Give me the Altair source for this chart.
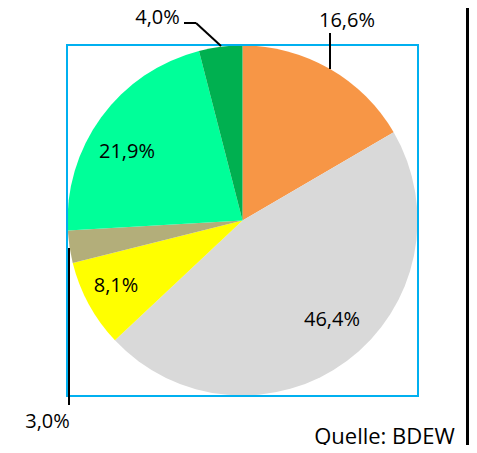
import altair as alt
import pandas as pd

categories = ["Kategorie 1", "Kategorie 2", "Kategorie 3", "Kategorie 4", "Kategorie 5", "Kategorie 6"]
values = [16.6, 46.4, 8.1, 3.0, 21.9, 4.0]
colors = ["#F79646", "#D9D9D9", "#FFFF00", "#B3AE7A", "#00FF99", "#00B050"]
source = "Quelle: BDEW"

df = pd.DataFrame({"cat": categories, "value": values, "order": list(range(len(values)))})

FONT = "Open Sans"
FS = 20
CX, CY, R = 234.5, 212.5, 175

base = alt.Chart(df).transform_calculate(
    label="replace(format(datum.value, '.1f'), '.', ',') + '%'"
)

arc = base.mark_arc(outerRadius=R).encode(
    theta=alt.Theta("value:Q", stack=True),
    color=alt.Color("cat:N", scale=alt.Scale(domain=categories, range=colors), legend=None),
    order=alt.Order("order:Q"),
    x=alt.value(CX),
    y=alt.value(CY),
)

def label(cat, x, y):
    return base.transform_filter(alt.datum.cat == cat).mark_text(
        font=FONT, fontSize=FS, color="black", baseline="alphabetic", align="center"
    ).encode(x=alt.value(x), y=alt.value(y), text="label:N")

def leader(cat, x1, y1, x2, y2):
    return alt.Chart(df).transform_filter(alt.datum.cat == cat).mark_rule(
        color="black", strokeWidth=2
    ).encode(x=alt.value(x1), y=alt.value(y1), x2=alt.value(x2), y2=alt.value(y2))

one = alt.Chart(df).transform_filter(alt.datum.cat == categories[0])

border = one.mark_rect(fillOpacity=0, stroke="#00B0F0", strokeWidth=2).encode(
    x=alt.value(59), x2=alt.value(410), y=alt.value(37), y2=alt.value(388)
)

edge = one.mark_rule(color="black", strokeWidth=3).encode(
    x=alt.value(459.5), x2=alt.value(459.5), y=alt.value(0), y2=alt.value(437)
)

src = one.transform_calculate(s="'" + source + "'").mark_text(
    font=FONT, fontSize=22, color="black", baseline="alphabetic", align="center"
).encode(x=alt.value(376.5), y=alt.value(436), text="s:N")

chart = alt.layer(
    arc,
    border,
    leader("Kategorie 1", 322, 25, 322, 61),
    leader("Kategorie 6", 176, 15, 188, 15),
    leader("Kategorie 6", 188, 15, 213, 38),
    leader("Kategorie 4", 61, 240, 61, 397),
    label("Kategorie 1", 339, 19),
    label("Kategorie 6", 149.5, 16),
    label("Kategorie 4", 39.5, 420),
    label("Kategorie 2", 324, 318),
    label("Kategorie 5", 119, 150.3),
    label("Kategorie 3", 108, 284.3),
    src,
    edge,
).properties(
    width=461, height=437, padding=0,
    autosize=alt.AutoSizeParams(type="none"),
    background="white",
).configure_view(stroke=None)

chart.save("out.html", embed_options={"renderer": "svg", "actions": False})
